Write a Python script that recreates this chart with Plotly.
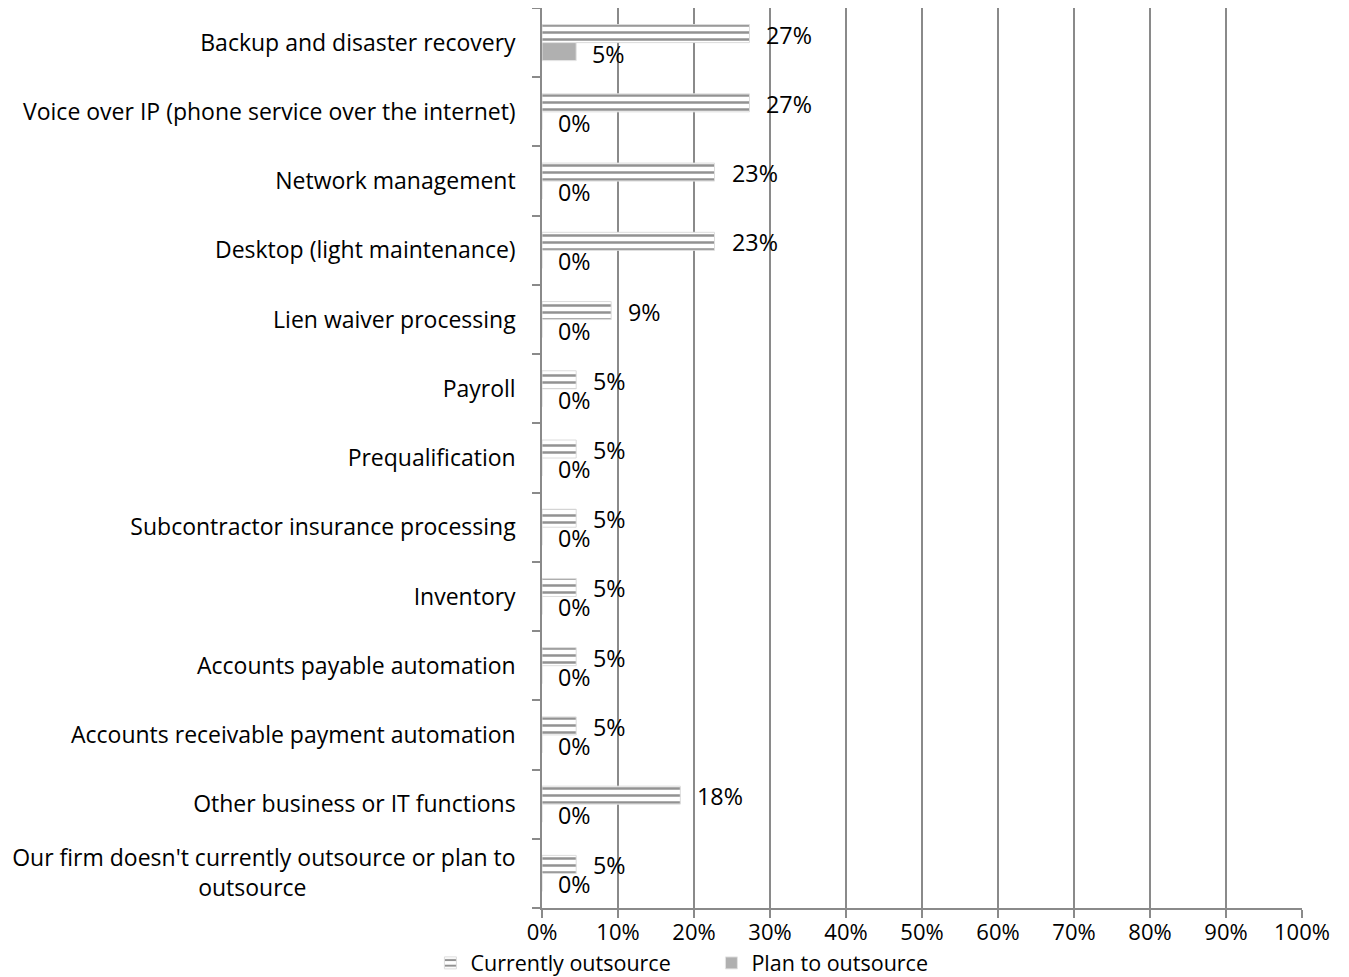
import plotly.graph_objects as go

categories = [
    "Backup and disaster recovery",
    "Voice over IP (phone service over the internet)",
    "Network management",
    "Desktop (light maintenance)",
    "Lien waiver processing",
    "Payroll",
    "Prequalification",
    "Subcontractor insurance processing",
    "Inventory",
    "Accounts payable automation",
    "Accounts receivable payment automation",
    "Other business or IT functions",
    "Our firm doesn't currently outsource or plan to outsource",
]
tick_labels = categories[:-1] + [
    "Our firm doesn't currently outsource or plan to<br>outsource" + "\u00a0" * 35
]
currently = [0.273, 0.273, 0.227, 0.227, 0.091, 0.045, 0.045, 0.045, 0.045, 0.045, 0.045, 0.182, 0.045]
currently_labels = ["27%", "27%", "23%", "23%", "9%", "5%", "5%", "5%", "5%", "5%", "5%", "18%", "5%"]
plan = [0.045, 0, 0, 0, 0, 0, 0, 0, 0, 0, 0, 0, 0]
plan_labels = ["5%", "0%", "0%", "0%", "0%", "0%", "0%", "0%", "0%", "0%", "0%", "0%", "0%"]
x_ticks = [i / 10 for i in range(11)]

FONT = "Open Sans"
FS = 23.3
fig = go.Figure()
fig.add_trace(go.Bar(
    y=categories, x=currently, orientation="h", name="Currently outsource",
    marker=dict(color="white", line=dict(color="#dcdcdc", width=1),
                pattern=dict(shape="-", fgcolor="#262626", bgcolor="white", size=7, solidity=0.36)),
))
fig.add_trace(go.Bar(
    y=categories, x=plan, orientation="h", name="Plan to outsource",
    marker=dict(color="#b0b0b0", line=dict(color="#e4e4e4", width=1)),
))

for cat, v, t in zip(categories, currently, currently_labels):
    fig.add_annotation(x=v, y=cat, text=t, showarrow=False,
                       xanchor="left", xshift=15, yshift=8,
                       font=dict(family=FONT, size=FS, color="black"))
for cat, v, t in zip(categories, plan, plan_labels):
    fig.add_annotation(x=v, y=cat, text=t, showarrow=False,
                       xanchor="left", xshift=14, yshift=-11,
                       font=dict(family=FONT, size=FS, color="black"))

# page body has an 8px margin; compensate so the plot area lands where the reference has it
fig.update_layout(
    width=1341, height=969,
    margin=dict(l=534, r=47, t=0, b=69, autoexpand=False),
    barmode="group", bargap=0.48, bargroupgap=0,
    plot_bgcolor="white", paper_bgcolor="white",
    font=dict(family=FONT, size=FS, color="black"),
    showlegend=True,
    legend=dict(orientation="h", xref="container", yref="paper",
                x=0.315, xanchor="left", y=-0.061, yanchor="middle",
                bgcolor="rgba(0,0,0,0)",
                font=dict(family=FONT, size=21.5), traceorder="normal",
                itemwidth=30, entrywidth=236, entrywidthmode="pixels"),
)
fig.update_xaxes(
    range=[0, 1], tickvals=x_ticks, tickformat=".0%",
    showgrid=True, gridcolor="#8a8a8a", gridwidth=1.5,
    showline=True, linecolor="#8a8a8a", linewidth=1.5,
    ticks="outside", ticklen=8, tickcolor="#8a8a8a", tickwidth=1.5,
    ticklabelstandoff=-4,
    tickfont=dict(family=FONT, size=22), zeroline=False,
)
fig.update_yaxes(
    autorange="reversed", tickvals=categories, ticktext=tick_labels,
    tickson="boundaries", ticks="outside", ticklen=8, tickcolor="#8a8a8a", tickwidth=1.5,
    showline=True, linecolor="#8a8a8a", linewidth=1.5, showgrid=False,
    ticklabelstandoff=20, tickfont=dict(family=FONT, size=23),
)
fig.write_html("out.html")
